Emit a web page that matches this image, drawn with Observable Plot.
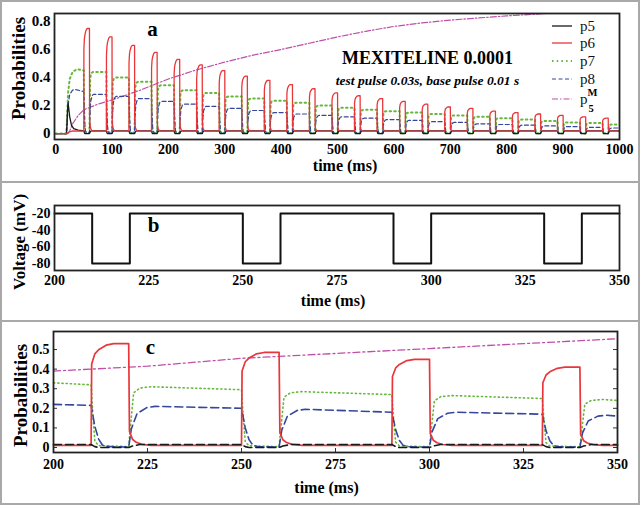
<!DOCTYPE html>
<html>
<head>
<meta charset="utf-8">
<script src="https://cdn.jsdelivr.net/npm/d3@7"></script>
<script src="https://cdn.jsdelivr.net/npm/@observablehq/plot@0.6"></script>
<style>
  body { margin: 0; background: #fff; }
  .panel { position: absolute; left: 0; width: 640px; box-sizing: border-box; border: 2px solid #a9a9a9; background: #fff; }
  .panel svg { display: block; }
</style>
</head>
<body>
<div id="pa" class="panel" style="top:0;height:181px;border-bottom:none"></div>
<div id="pb" class="panel" style="top:181px;height:139px;border-bottom:none"></div>
<div id="pc" class="panel" style="top:320px;height:185px"></div>
<script>
// ---------------- DATA ----------------
// Panel a: 0–1000 ms
const xTicksA = [0, 100, 200, 300, 400, 500, 600, 700, 800, 900, 1000];
const yTicksA = [0, 0.2, 0.4, 0.6, 0.8];
const pulseStartA = [50, 90, 130, 170, 210, 250, 290, 330, 370, 410, 450, 490, 530, 570, 610, 650, 690, 730, 770, 810, 850, 890, 930, 970];
const p6PeakA = [0.75, 0.69, 0.63, 0.58, 0.53, 0.49, 0.45, 0.41, 0.38, 0.35, 0.32, 0.29, 0.27, 0.25, 0.23, 0.21, 0.19, 0.18, 0.16, 0.15, 0.14, 0.13, 0.12, 0.11];
const p7AfterA = [0.44, 0.40, 0.37, 0.345, 0.31, 0.29, 0.265, 0.25, 0.235, 0.22, 0.20, 0.185, 0.17, 0.16, 0.15, 0.14, 0.13, 0.12, 0.11, 0.10, 0.09, 0.08, 0.075, 0.065];
const p8AfterA = [0.28, 0.265, 0.25, 0.23, 0.21, 0.195, 0.18, 0.165, 0.15, 0.14, 0.13, 0.12, 0.11, 0.10, 0.095, 0.085, 0.08, 0.07, 0.065, 0.06, 0.055, 0.05, 0.045, 0.04];
const p5BaseA = 0.02, p6BaseA = 0.018;
const p5InitT = [0, 19, 20, 21, 22, 23, 25, 28, 32, 40, 50];
const p5InitV = [0, 0, 0.05, 0.16, 0.22, 0.19, 0.12, 0.06, 0.035, 0.025, 0.02];
const p6InitT = [0, 19, 22, 30, 50];
const p6InitV = [0, 0, 0.008, 0.02, 0.018];
const p7InitT = [0, 19, 20, 22, 25, 30, 38, 45, 50];
const p7InitV = [0, 0, 0.08, 0.29, 0.39, 0.44, 0.46, 0.455, 0.45];
const p8InitT = [0, 19, 20, 22, 25, 30, 35, 45, 50];
const p8InitV = [0, 0, 0.04, 0.2, 0.28, 0.31, 0.315, 0.305, 0.30];
const p5MTimeA = [0, 22, 25, 30, 40, 50, 75, 100, 150, 200, 250, 300, 350, 400, 450, 500, 550, 600, 650, 700, 750, 800, 850, 900, 1000];
const p5MValA = [0, 0, 0.02, 0.07, 0.13, 0.17, 0.21, 0.24, 0.31, 0.39, 0.455, 0.51, 0.56, 0.60, 0.645, 0.69, 0.73, 0.765, 0.79, 0.81, 0.825, 0.84, 0.852, 0.865, 0.89];

// Panel b: voltage protocol 200–350 ms
const xTicksBC = [200, 225, 250, 275, 300, 325, 350];
const yTicksB = [-20, -40, -60, -80];
const vTime = [200, 210, 220, 250, 260, 290, 300, 330, 340, 350];
const vVolt = [-20, -80, -20, -80, -20, -80, -20, -80, -20, -20];

// Panel c: 200–350 ms zoom
const yTicksC = [0, 0.1, 0.2, 0.3, 0.4, 0.5];
const pulseStartC = [210, 250, 290, 330];
const p6PeakC = [0.53, 0.485, 0.45, 0.41];
const p7StartC = 0.33, p7EndC = 0.24;
const p7BeforeC = [0.32, 0.295, 0.27, 0.25];
const p7AfterC = [0.31, 0.285, 0.265, 0.245];
const p8StartC = 0.22, p8EndC = 0.16;
const p8BeforeC = [0.215, 0.2, 0.18, 0.17];
const p8AfterC = [0.21, 0.195, 0.18, 0.165];
const p5BaseC = 0.015, p6BaseC = 0.011;
const p5MTimeC = [200, 225, 250, 275, 300, 325, 350];
const p5MValC = [0.39, 0.415, 0.455, 0.48, 0.505, 0.53, 0.555];

// Shapes of each state around a hyperpolarising pulse (ms offsets)
const redTplT = [0, 0.15, 1, 2, 4, 6, 10, 10.2, 11, 12, 13.5, 16];
const redTplF = [0, 0.8, 0.9, 0.94, 0.985, 1, 1, 0.14, 0.06, 0.03, 0.01, 0];
const greenTplT = [0, 0.5, 1, 2, 10, 10.4, 11.3, 13, 16];
const greenTplB = [1, 0.5, 0.1, 0.03, 0.015, 0, 0, 0, 0];
const greenTplA = [0, 0, 0, 0, 0, 0.3, 0.9, 0.98, 1];
const blueTplT = [0, 0.5, 1, 2, 3, 4.5, 10, 10.7, 12.2, 14.8, 17];
const blueTplB = [1, 0.75, 0.5, 0.2, 0.06, 0.02, 0.01, 0, 0, 0, 0];
const blueTplA = [0, 0, 0, 0, 0, 0, 0, 0.45, 0.82, 0.97, 1];
const blackTplT = [0, 1, 2, 10, 11, 13];
const blackTplF = [1, 0.3, 0, 0, 0.5, 1];

// ---------------- BUILD ----------------
const zip = (T, V) => T.map((t, i) => [t, V[i]]);
function pulsed(startPts, starts, tplT, valueAt, endPt) {
  const pts = startPts.slice();
  starts.forEach((t0, k) => tplT.forEach((dt, j) => pts.push([t0 + dt, valueAt(k, j)])));
  pts.push(endPt);
  return pts;
}
// panel a series
const a_p6 = pulsed(zip(p6InitT, p6InitV).slice(0, -1), pulseStartA, redTplT,
  (k, j) => p6BaseA + redTplF[j] * (p6PeakA[k] - p6BaseA), [1000, p6BaseA]);
const a_p7 = pulsed(zip(p7InitT, p7InitV).slice(0, -1), pulseStartA, greenTplT,
  (k, j) => greenTplB[j] * (k === 0 ? p7InitV[p7InitV.length - 1] : p7AfterA[k - 1]) + greenTplA[j] * p7AfterA[k],
  [1000, p7AfterA[p7AfterA.length - 1]]);
const a_p8 = pulsed(zip(p8InitT, p8InitV).slice(0, -1), pulseStartA, blueTplT,
  (k, j) => blueTplB[j] * (k === 0 ? p8InitV[p8InitV.length - 1] : p8AfterA[k - 1]) + blueTplA[j] * p8AfterA[k],
  [1000, p8AfterA[p8AfterA.length - 1]]);
const a_p5 = pulsed(zip(p5InitT, p5InitV).slice(0, -1), pulseStartA, blackTplT,
  (k, j) => blackTplF[j] * p5BaseA, [1000, p5BaseA]);
const a_p5M = zip(p5MTimeA, p5MValA);

// panel c series
const c_p6 = pulsed([[200, p6BaseC]], pulseStartC, redTplT,
  (k, j) => p6BaseC + redTplF[j] * (p6PeakC[k] - p6BaseC), [350, p6BaseC]);
const c_p7 = pulsed([[200, p7StartC]], pulseStartC, greenTplT,
  (k, j) => greenTplB[j] * p7BeforeC[k] + greenTplA[j] * p7AfterC[k], [350, p7EndC]);
const c_p8 = pulsed([[200, p8StartC]], pulseStartC, blueTplT,
  (k, j) => blueTplB[j] * p8BeforeC[k] + blueTplA[j] * p8AfterC[k], [350, p8EndC]);
const c_p5 = pulsed([[200, p5BaseC]], pulseStartC, blackTplT,
  (k, j) => blackTplF[j] * p5BaseC, [350, p5BaseC]);
const c_p5M = zip(p5MTimeC, p5MValC);
const voltage = zip(vTime, vVolt);

// ---------------- STYLE ----------------
const FONT = "'Liberation Serif', 'Times New Roman', serif";
const C = { p5: "#1a1a1a", p6: "#e8363a", p7: "#66b83c", p8: "#34479c", p5M: "#c04fa8" };
const X = d => d[0], Y = d => d[1];
const baseStyle = { fontFamily: FONT, fontSize: "14px", fontWeight: "bold", background: "#fff", color: "#000", overflow: "visible" };
const fmt = d => String(d);
const W = 636;
const lbl = (s, o) => Plot.text([s], Object.assign({ text: d => d, textAnchor: "middle", lineAnchor: "middle", fontWeight: "bold", fill: "#000" }, o));

// ---------------- PANEL A ----------------
{
  const ml = 52, mr = 19, mt = 11, mb = 42, h = 179;
  const chart = Plot.plot({
    width: W, height: h, marginLeft: ml, marginRight: mr, marginTop: mt, marginBottom: mb,
    style: baseStyle,
    x: { domain: [-2, 1000] },
    y: { domain: [-0.042, 0.857] },
    marks: [
      Plot.line(a_p5M, { x: X, y: Y, stroke: C.p5M, strokeWidth: 1.2, strokeDasharray: "6,2,1.5,2", clip: true }),
      Plot.line(a_p7, { x: X, y: Y, stroke: C.p7, strokeWidth: 2, strokeDasharray: "1.5,3.2", clip: true }),
      Plot.line(a_p8, { x: X, y: Y, stroke: C.p8, strokeWidth: 1.2, strokeDasharray: "4,2.5", clip: true }),
      Plot.line(a_p5, { x: X, y: Y, stroke: C.p5, strokeWidth: 1.3, clip: true }),
      Plot.line(a_p6, { x: X, y: Y, stroke: C.p6, strokeWidth: 1.3, clip: true }),
      Plot.frame({ stroke: "#222", strokeWidth: 1.8 }),
      Plot.axisX(xTicksA, { tickSize: 0, tickPadding: 5, tickFormat: fmt, label: null, fontSize: 14, fontWeight: "bold" }),
      Plot.axisY(yTicksA, { tickSize: 0, tickPadding: 4, tickFormat: fmt, label: null, fontSize: 15, fontWeight: "bold" }),
      lbl("Probabilities", { frameAnchor: "left", dx: -35.5, dy: -8, rotate: -90, fontSize: 19 }),
      lbl("time (ms)", { frameAnchor: "bottom", dx: 8, dy: 26, fontSize: 16 }),
      lbl("a", { frameAnchor: "top-left", dx: 98, dy: 16, fontSize: 21 }),
      lbl("MEXITELINE 0.0001", { frameAnchor: "top-left", dx: 373, dy: 45, fontSize: 18 }),
      lbl("test pulse 0.03s, base pulse 0.01 s", { frameAnchor: "top-left", dx: 373, dy: 67, fontSize: 13.5, fontStyle: "italic" })
    ]
  });
  const host = document.getElementById("pa");
  host.appendChild(chart);
  // legend overlay
  const legendNames = ["p5", "p6", "p7", "p8", "p"];
  const legendKeys = ["p5", "p6", "p7", "p8", "p5M"];
  const legendDash = [null, null, "1.5,3.2", "4,2.5", "6,2,1.5,2"];
  const legendWidth = [1.3, 1.3, 2, 1.2, 1.2];
  const legY = [24, 41, 59, 77, 97];
  const svg = d3.select(host).append("svg")
    .attr("width", W).attr("height", h)
    .style("position", "absolute").style("left", "0px").style("top", "0px")
    .style("font-family", FONT);
  legendKeys.forEach((k, i) => {
    svg.append("line").attr("x1", 550).attr("x2", 570).attr("y1", legY[i]).attr("y2", legY[i])
      .attr("stroke", C[k]).attr("stroke-width", legendWidth[i])
      .attr("stroke-dasharray", legendDash[i]);
    svg.append("text").attr("x", 578).attr("y", legY[i] + 4.5).attr("font-size", 15)
      .attr("fill", "#111").text(legendNames[i]);
  });
  svg.append("text").attr("x", 585.5).attr("y", 94).attr("font-size", 10.5).attr("font-weight", "bold").text("M");
  svg.append("text").attr("x", 586.5).attr("y", 109.5).attr("font-size", 10.5).attr("font-weight", "bold").text("5");
}

// ---------------- PANEL B ----------------
{
  const ml = 52, mr = 19, mt = 22, mb = 50, h = 137;
  const chart = Plot.plot({
    width: W, height: h, marginLeft: ml, marginRight: mr, marginTop: mt, marginBottom: mb,
    style: baseStyle,
    x: { domain: [200, 350] },
    y: { domain: [-88.4, -10.4] },
    marks: [
      Plot.line(voltage, { x: X, y: Y, curve: "step-after", stroke: "#111", strokeWidth: 2 }),
      Plot.frame({ stroke: "#222", strokeWidth: 1.8 }),
      Plot.axisX(xTicksBC, { tickSize: 0, tickPadding: 5, tickFormat: fmt, label: null, fontSize: 14, fontWeight: "bold" }),
      Plot.axisY(yTicksB, { tickSize: 0, tickPadding: 4, tickFormat: fmt, label: null, fontSize: 14, fontWeight: "bold" }),
      lbl("Voltage (mV)", { frameAnchor: "left", dx: -35, dy: 4, rotate: -90, fontSize: 17 }),
      lbl("time (ms)", { frameAnchor: "bottom", dx: -4, dy: 30, fontSize: 16 }),
      lbl("b", { frameAnchor: "top-left", dx: 99, dy: 20, fontSize: 21 })
    ]
  });
  document.getElementById("pb").appendChild(chart);
}

// ---------------- PANEL C ----------------
{
  const ml = 51, mr = 21, mt = 9, mb = 51, h = 181;
  const fw = W - ml - mr, fh = h - mt - mb;
  const chart = Plot.plot({
    width: W, height: h, marginLeft: ml, marginRight: mr, marginTop: mt, marginBottom: mb,
    style: baseStyle,
    x: { domain: [200, 350] },
    y: { domain: [-0.0255, 0.592] },
    marks: [
      Plot.line(c_p5M, { x: X, y: Y, stroke: C.p5M, strokeWidth: 1.3, strokeDasharray: "7,3,2,3" }),
      Plot.line(c_p7, { x: X, y: Y, stroke: C.p7, strokeWidth: 1.6, strokeDasharray: "1.2,3" }),
      Plot.line(c_p8, { x: X, y: Y, stroke: C.p8, strokeWidth: 1.6, strokeDasharray: "8,4" }),
      Plot.line(c_p6, { x: X, y: Y, stroke: C.p6, strokeWidth: 1.7 }),
      Plot.line(c_p5, { x: X, y: Y, stroke: C.p5, strokeWidth: 1.6, strokeDasharray: "8,4" }),
      Plot.tickY(yTicksC, { y: d => d, stroke: "#333", strokeWidth: 1, insetLeft: fw - 4 }),
      Plot.tickY(yTicksC, { y: d => d, stroke: "#333", strokeWidth: 1, insetRight: fw - 4 }),
      Plot.tickX(xTicksBC, { x: d => d, stroke: "#333", strokeWidth: 1, insetTop: fh - 4 }),
      Plot.frame({ stroke: "#222", strokeWidth: 1.8 }),
      Plot.axisX(xTicksBC, { tickSize: 0, tickPadding: 7, tickFormat: fmt, label: null, fontSize: 14, fontWeight: "bold" }),
      Plot.axisY(yTicksC, { tickSize: 0, tickPadding: 4, tickFormat: fmt, label: null, fontSize: 14, fontWeight: "bold" }),
      lbl("Probabilities", { frameAnchor: "left", dx: -33, dy: 3.5, rotate: -90, fontSize: 19 }),
      lbl("time (ms)", { frameAnchor: "bottom", dx: -9, dy: 35, fontSize: 16 }),
      lbl("c", { frameAnchor: "top-left", dx: 97, dy: 16, fontSize: 21 })
    ]
  });
  document.getElementById("pc").appendChild(chart);
}
</script>
</body>
</html>
